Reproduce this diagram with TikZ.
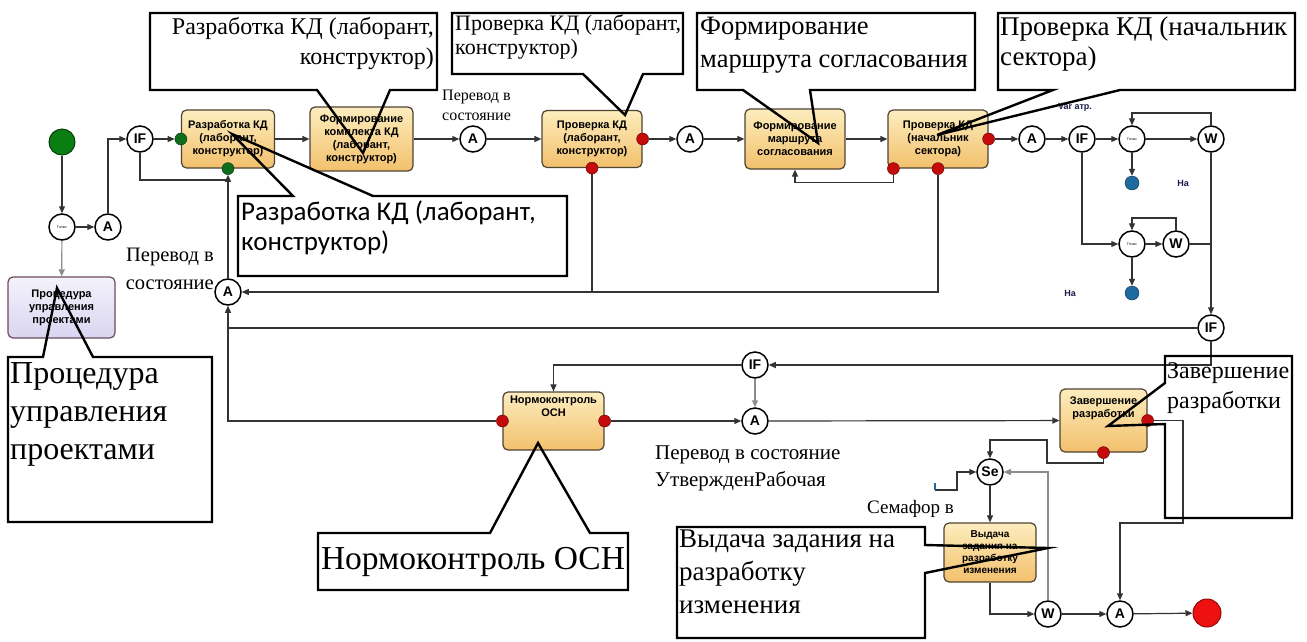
\documentclass[tikz,border=0pt]{standalone}
\usepackage{fontspec}
\setmainfont{Liberation Serif}
\setsansfont{Liberation Sans}
\newfontfamily\calloutsans{Carlito}
\usepackage{xcolor}
\usetikzlibrary{arrows.meta,calc}
\definecolor{BoxTop}{HTML}{FDEDBE}
\definecolor{BoxBottom}{HTML}{F2C06C}
\definecolor{BoxBorder}{HTML}{4E4232}
\definecolor{ProcTop}{HTML}{F4F2FC}
\definecolor{ProcBottom}{HTML}{D9D5F0}
\definecolor{ProcBorder}{HTML}{6A4C5C}
\definecolor{FlowDark}{HTML}{333333}
\definecolor{FlowGrey}{HTML}{8C8C8C}
\definecolor{DotRed}{HTML}{C40A0A}
\definecolor{DotGreen}{HTML}{0E6E1C}
\definecolor{DotBlue}{HTML}{1E6A9E}
\definecolor{LabelBlue}{HTML}{1A1A4A}
\definecolor{EndRed}{HTML}{EE1111}
\definecolor{StartGreen}{HTML}{0A7E12}

\tikzset{
  proc/.style={draw=BoxBorder, line width=1.2pt, rounded corners=5pt,
    top color=BoxTop, bottom color=BoxBottom, align=center, inner sep=1pt,
    font=\sffamily\bfseries\fontsize{11}{13}\selectfont},
  procmain/.style={proc, draw=ProcBorder, top color=ProcTop, bottom color=ProcBottom},
  gate/.style={circle, draw=black, line width=1.5pt, fill=white, minimum size=26pt,
    inner sep=0pt, font=\sffamily\bfseries\fontsize{14}{14}\selectfont},
  timer/.style={gate, font=\sffamily\fontsize{3.5}{4}\selectfont},
  rdot/.style={circle, draw=DotRed!45!black, fill=DotRed, minimum size=12pt, inner sep=0pt},
  gdot/.style={rdot, draw=DotGreen!45!black, fill=DotGreen},
  bdot/.style={rdot, draw=DotBlue!45!black, fill=DotBlue, minimum size=14pt},
  flow/.style={draw=FlowDark, line width=1.2pt, -{Triangle[length=7pt,width=6pt]}},
  link/.style={draw=FlowDark, line width=1.2pt},
  call/.style={draw=black, line width=2.4pt, line join=miter},
  calltext/.style={inner sep=0pt, align=left},
  note/.style={inner sep=0pt, align=left, font=\fontsize{16}{20}\selectfont},
  tag/.style={inner sep=0pt, text=LabelBlue, font=\sffamily\bfseries\fontsize{9}{9}\selectfont},
}

\begin{document}
\begin{tikzpicture}[x=1pt, y=-1pt]
  \useasboundingbox (0,0) rectangle (1307,641);

  % start and project procedure
  \node[circle, draw=StartGreen!50!black, fill=StartGreen, minimum size=26pt, line width=1pt] (start) at (62,142) {};
  \node[timer] (tp1) at (62,227) {Тплюс};
  \node[gate] (a1) at (108,227) {A};
  \node[procmain, minimum width=107pt, minimum height=61pt] (proc) at (61.5,307.5) {Процедура\\управления\\проектами};
  \node[gate] (if1) at (140,139) {IF};
  \node[gate] (a2) at (228,292) {A};

  % top row
  \node[proc, minimum width=93pt, minimum height=58pt] (b1) at (228,139) {Разработка КД\\(лаборант,\\конструктор)};
  \node[gdot] (g1) at (b1.west) {};
  \node[gdot] (g2) at (b1.south) {};
  \node[proc, minimum width=103pt, minimum height=64pt] (b2) at (361.5,139) {Формирование\\комплекта КД\\(лаборант,\\конструктор)};
  \node[gate] (a3) at (473,139) {A};
  \node[proc, minimum width=100pt, minimum height=57pt] (b3) at (592,139) {Проверка КД\\(лаборант,\\конструктор)};
  \node[rdot] (r3e) at (b3.east) {};
  \node[rdot] (r3b) at (b3.south) {};
  \node[gate] (a4) at (690,139) {A};
  \node[proc, minimum width=100pt, minimum height=60pt] (b4) at (795,139) {Формирование\\маршрута\\согласования};
  \node[proc, minimum width=100pt, minimum height=58pt] (b5) at (938,139) {Проверка КД\\(начальник\\сектора)};
  \node[rdot] (r5e) at (b5.east) {};
  \node[rdot] (r5a) at ([xshift=6pt]b5.south west) {};
  \node[rdot] (r5b) at (b5.south) {};
  \node[gate] (a5) at (1032,139) {A};
  \node[gate] (if2) at (1082,139) {IF};
  \node[timer] (t1) at (1132,139) {Тплюс};
  \node[gate] (w1) at (1211,139) {W};
  \node[bdot] (bd1) at (1132,183) {};
  \node[timer] (t2) at (1132,244) {Тплюс};
  \node[gate] (w2) at (1176,244) {W};
  \node[bdot] (bd2) at (1132,293) {};
  \node[gate] (if3) at (1211,328) {IF};

  % lower part
  \node[gate] (if4) at (755,365) {IF};
  \node[proc, minimum width=101pt, minimum height=58pt, text depth=30pt] (b8) at (553.5,421) {Нормоконтроль\\ОСН};
  \node[rdot] (r8w) at (b8.west) {};
  \node[rdot] (r8e) at (b8.east) {};
  \node[gate] (a6) at (755,421) {A};
  \node[proc, minimum width=87pt, minimum height=63pt, text depth=26pt] (b6) at (1103.5,420.5) {Завершение\\разработки};
  \node[rdot] (r6e) at (b6.east) {};
  \node[rdot] (r6b) at (b6.south) {};
  \node[gate] (se) at (990,472) {Se};
  \node[proc, minimum width=92pt, minimum height=59pt, font=\sffamily\bfseries\fontsize{10}{12}\selectfont] (b7) at (990,552.5) {Выдача\\задания на\\разработку\\изменения};
  \node[gate] (w3) at (1048,614) {W};
  \node[gate] (a7) at (1120,614) {A};
  \node[circle, draw=EndRed!60!black, fill=EndRed, minimum size=28pt, line width=1pt] (stop) at (1207,613) {};

  \coordinate (k1) at (1183,523);
  \coordinate (k2) at (1047,440);
  \coordinate (k3) at (1047,463);
  \coordinate (k4) at (935,490);
  \coordinate (k5) at (957,472);

  % connectors
  \draw[flow] (start) -- (tp1);
  \draw[flow] (tp1) -- (a1);
  \draw[flow, draw=FlowGrey] (tp1) -- (proc);
  \draw[flow] (a1) |- (if1);
  \draw[flow] (if1) -- (g1);
  \draw[link] (if1) |- (g2 |- 0,180);
  \draw[flow] (a2) -- (g2);
  \draw[flow] (b1) -- (b2);
  \draw[flow] (b2) -- (a3);
  \draw[flow] (a3) -- (b3);
  \draw[flow] (r3e) -- (a4);
  \draw[flow] (a4) -- (b4);
  \draw[flow] (b4) -- (b5);
  \draw[flow] (r5a) -- ++(0,14) -| (b4);
  \draw[link] (r3b) -- (r3b |- a2);
  \draw[flow] (r5b) |- (a2);
  \draw[flow] (r5e) -- (a5);
  \draw[flow] (a5) -- (if2);
  \draw[flow] (if2) -- (t1);
  \draw[flow] (t1) -- (w1);
  \draw[flow] (w1) -- ++(0,-26) -| (t1);
  \draw[flow] (t1) -- (bd1);
  \draw[flow] (if2) |- (t2);
  \draw[flow] (t2) -- (w2);
  \draw[flow] (w2) -- ++(0,-26) -| (t2);
  \draw[flow] (t2) -- (bd2);
  \draw[flow] (w1) -- (if3);
  \draw[link] (w2) -- (w2 -| if3);
  \draw[link] (if3) -- (if3 -| a2);
  \draw[flow] (r8w) -| (a2);
  \draw[flow] (if3) |- (if4);
  \draw[flow] (if4) -| (b8);
  \draw[flow, draw=FlowGrey] (if4) -- (a6);
  \draw[flow] (r8e) -- (a6);
  \draw[flow] (a6) -- (b6);
  \draw[flow] (r6e) -| (k1) -| (a7);
  \draw[flow] (r6b) |- (k3) -- (k2) -| (se);
  \draw[flow] (k4) -| (k5) -- (se);
  \draw[DotBlue, line width=2.5pt] (k4) -- ++(0,-7);
  \draw[flow, draw=FlowGrey] (w3) |- (se);
  \draw[flow] (se) -- (b7);
  \draw[flow] (b7) |- (w3);
  \draw[flow] (w3) -- (a7);
  \draw[flow] (a7) -- (stop);

  % labels
  \node[note, align=right, anchor=north east, font=\fontsize{20.5}{28}\selectfont] (lblA2) at (214,248) {Перевод в\\состояние};
  \node[note, anchor=north west] (lblA3) at (442,90) {Перевод в\\состояние};
  \node[note, anchor=north west, font=\fontsize{21}{27}\selectfont] (lblA6) at (655,446) {Перевод в состояние\\УтвержденРабочая};
  \node[note, anchor=north west, font=\fontsize{19}{23}\selectfont] (lblSe) at (867,500) {Семафор в};
  \node[tag] (tagVar) at (1075,107) {Var атр.};
  \node[tag] (tagNa1) at (1183,183) {На};
  \node[tag] (tagNa2) at (1070,293) {На};

  % callouts
  \draw[call] (150,13) -- (437,13) -- (437,90) -- (390,90) -- (363,153) -- (317,90) -- (150,90) -- cycle;
  \node[calltext, align=right, anchor=north east, font=\fontsize{24}{30}\selectfont] (noteDev) at (434,17) {Разработка КД (лаборант,\\конструктор)};

  \draw[call] (452,13) -- (683,13) -- (683,74) -- (643,74) -- (625,115) -- (583,74) -- (452,74) -- cycle;
  \node[calltext, anchor=north west, font=\fontsize{22}{24}\selectfont] (noteCheck) at (455,15) {Проверка КД (лаборант,\\конструктор)};

  \draw[call] (238,196) -- (293,196) -- (232,134) -- (373,196) -- (567,196) -- (567,276) -- (238,276) -- cycle;
  \node[calltext, anchor=north west, font=\calloutsans\fontsize{27}{30}\selectfont] (noteDevLow) at (241,201) {Разработка КД (лаборант,\\конструктор)};

  \draw[call] (697,13) -- (975,13) -- (975,90) -- (810,90) -- (818,143) -- (743,90) -- (697,90) -- cycle;
  \node[calltext, anchor=north west, font=\fontsize{26.5}{33}\selectfont] (noteRoute) at (700,17) {Формирование\\маршрута согласования};

  \draw[call] (998,13) -- (1295,13) -- (1295,90) -- (1120,90) -- (937,135) -- (1053,90) -- (998,90) -- cycle;
  \node[calltext, anchor=north west, font=\fontsize{27}{30}\selectfont] (noteHead) at (1000,17) {Проверка КД (начальник\\сектора)};

  \draw[call] (1165,356) -- (1292,356) -- (1292,518) -- (1165,518) -- (1165,424) -- (1108,426) -- (1165,383) -- cycle;
  \node[calltext, anchor=north west, font=\fontsize{24}{30}\selectfont] (noteEnd) at (1167,362) {Завершение\\разработки};

  \draw[call] (677,527) -- (925,527) -- (925,545) -- (1048,548) -- (925,573) -- (925,638) -- (677,638) -- cycle;
  \node[calltext, anchor=north west, font=\fontsize{27}{33}\selectfont] (noteTask) at (679,530) {Выдача задания на\\разработку\\изменения};

  \draw[call] (318,533) -- (490,533) -- (538,443) -- (590,533) -- (628,533) -- (628,590) -- (318,590) -- cycle;
  \node[calltext, font=\fontsize{33.5}{36}\selectfont] (noteNorm) at (473,562) {Нормоконтроль ОСН};

  \draw[call] (8,357) -- (43,357) -- (57,288) -- (93,357) -- (212,357) -- (212,522) -- (8,522) -- cycle;
  \node[calltext, anchor=north west, font=\fontsize{32}{38}\selectfont] (noteProc) at (10,362) {Процедура\\управления\\проектами};
\end{tikzpicture}
\end{document}
